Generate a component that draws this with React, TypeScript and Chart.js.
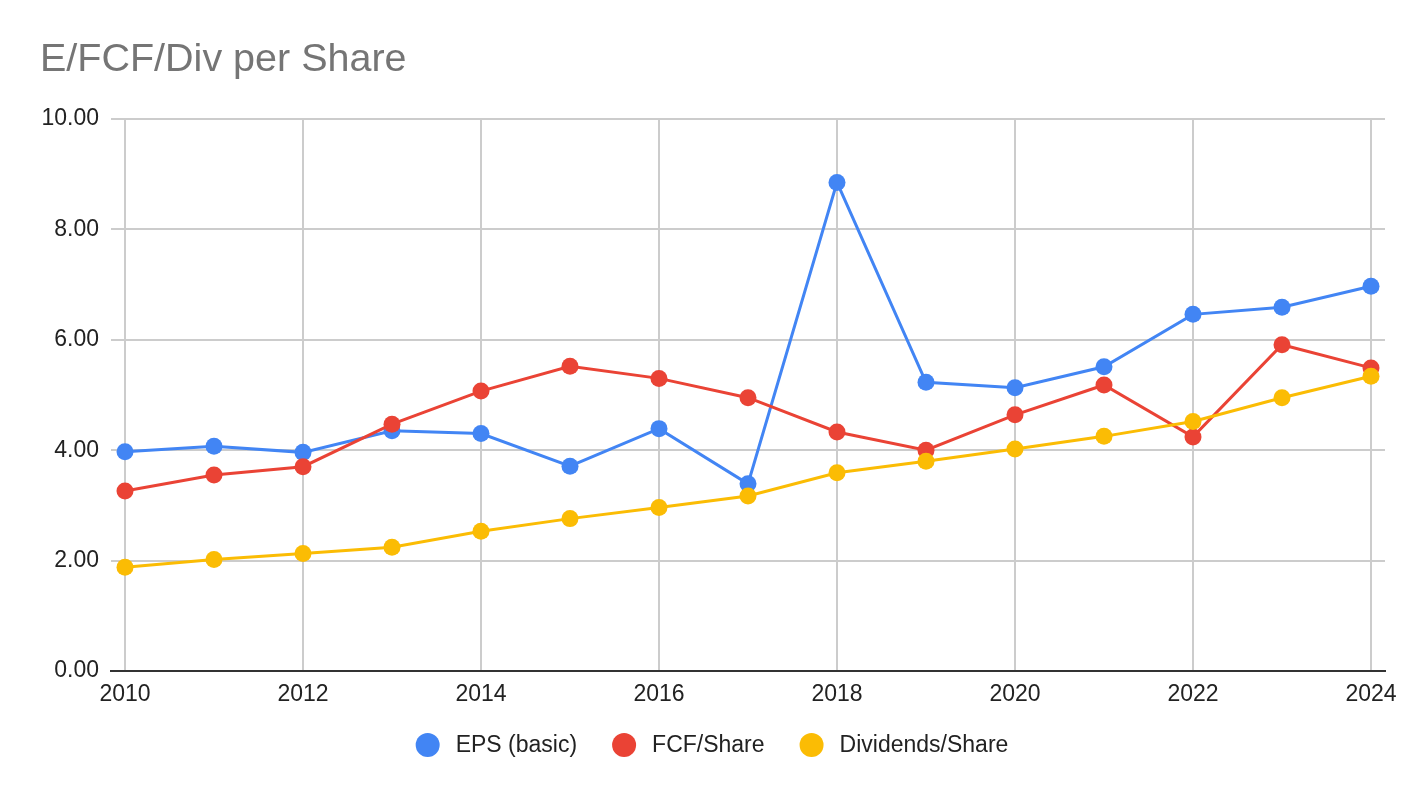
import React, { MutableRefObject, useEffect, useRef } from 'react';
import { Chart, registerables } from 'chart.js';

Chart.register(...registerables);

const years = [2010, 2011, 2012, 2013, 2014, 2015, 2016, 2017, 2018, 2019, 2020, 2021, 2022, 2023, 2024];
const tickYears = [2010, 2012, 2014, 2016, 2018, 2020, 2022, 2024];
const yTicks = [0, 2, 4, 6, 8, 10];

const epsBasic = [3.97, 4.07, 3.96, 4.35, 4.3, 3.71, 4.39, 3.39, 8.85, 5.23, 5.13, 5.51, 6.46, 6.59, 6.97];
const fcfShare = [3.26, 3.55, 3.7, 4.47, 5.07, 5.52, 5.3, 4.95, 4.33, 4.0, 4.64, 5.18, 4.24, 5.91, 5.49];
const divShare = [1.88, 2.02, 2.13, 2.24, 2.53, 2.76, 2.96, 3.17, 3.59, 3.8, 4.02, 4.25, 4.52, 4.95, 5.34];

const seriesNames = ['EPS (basic)', 'FCF/Share', 'Dividends/Share'];
const seriesColors = ['#4285F4', '#EA4335', '#FBBC04'];

const FONT = "'Liberation Sans', Arial, sans-serif";
const LABEL_SIZE = 23;
const X_PAD = 196 / 1246; // keeps 2010 and 2024 a little inside the plot

// Sheets-style legend under the plot: dot, text, wide gap
const legendPlugin = {
  id: 'sheetsLegend',
  afterDraw: (chart: any) => {
    const ctx = chart.ctx;
    const sets = chart.data.datasets;
    const r = 12;
    const toText = 28;
    const gap = 35;
    ctx.save();
    ctx.font = `${LABEL_SIZE}px ${FONT}`;
    ctx.textBaseline = 'middle';
    ctx.textAlign = 'left';
    const widths = sets.map((ds: any) => ctx.measureText(ds.label).width);
    let total = 0;
    widths.forEach((w: number, i: number) => {
      total += r + toText + w + (i < widths.length - 1 ? gap : 0);
    });
    const y = 745;
    let x = chart.width / 2 - total / 2;
    sets.forEach((ds: any, i: number) => {
      ctx.fillStyle = ds.pointBackgroundColor;
      ctx.beginPath();
      ctx.arc(x + r, y, r, 0, Math.PI * 2);
      ctx.fill();
      ctx.fillStyle = '#222222';
      ctx.fillText(ds.label, x + r + toText, y + 1);
      x += r + toText + widths[i] + gap;
    });
    ctx.restore();
  },
};

const App: React.FC = () => {
  const canvasRef = useRef() as MutableRefObject<HTMLCanvasElement | null>;

  useEffect(() => {
    document.body.style.margin = '0';
    let chart: any = null;
    if (canvasRef.current) {
      const toPoints = (vals: number[]) => vals.map((v, i) => ({ x: years[i], y: v }));
      const seriesValues = [epsBasic, fcfShare, divShare];

      chart = new Chart(canvasRef.current, {
        type: 'line',
        data: {
          datasets: seriesValues.map((vals, i) => ({
            label: seriesNames[i],
            data: toPoints(vals),
            borderColor: seriesColors[i],
            backgroundColor: seriesColors[i],
            pointBackgroundColor: seriesColors[i],
            pointBorderWidth: 0,
            pointRadius: 8.5,
            borderWidth: 3,
            tension: 0,
            order: 3 - i,
          })),
        },
        plugins: [legendPlugin],
        options: {
          animation: false,
          responsive: true,
          maintainAspectRatio: false,
          layout: {
            padding: { left: 40, right: 39, top: 0, bottom: 90 },
          },
          plugins: {
            title: {
              display: true,
              text: 'E/FCF/Div per Share',
              align: 'start',
              color: '#757575',
              font: { family: FONT, size: 39.5, weight: 'normal' },
              padding: { top: 36.5, bottom: 35 },
            },
            legend: { display: false },
            tooltip: { enabled: false },
          },
          scales: {
            x: {
              type: 'linear',
              min: years[0] - X_PAD,
              max: years[years.length - 1] + X_PAD,
              afterBuildTicks: (scale: any) => {
                scale.ticks = tickYears.map((v) => ({ value: v }));
              },
              afterFit: (scale: any) => {
                scale.height = 37;
              },
              grid: {
                color: '#cccccc',
                lineWidth: 2,
                drawTicks: false,
              },
              border: { display: true, color: '#333333', width: 2 },
              ticks: {
                color: '#222222',
                font: { family: FONT, size: LABEL_SIZE },
                padding: 10,
                maxRotation: 0,
                autoSkip: false,
                callback: (v: any) => String(v),
              },
            },
            y: {
              min: 0,
              max: 10,
              afterBuildTicks: (scale: any) => {
                scale.ticks = yTicks.map((v) => ({ value: v }));
              },
              afterFit: (scale: any) => {
                scale.width = 71;
              },
              grid: {
                color: '#cccccc',
                lineWidth: 2,
                drawTicks: false,
              },
              border: { display: false },
              ticks: {
                color: '#222222',
                font: { family: FONT, size: LABEL_SIZE },
                padding: 12,
                callback: (v: any) => Number(v).toFixed(2),
              },
            },
          },
        },
      } as any);
    }
    return () => {
      if (chart) {
        chart.destroy();
      }
    };
  }, []);

  return (
    <div style={{ position: 'absolute', left: 0, top: 0, width: 1424, height: 798, background: '#ffffff' }}>
      <canvas ref={canvasRef} />
    </div>
  );
};

export default App;
